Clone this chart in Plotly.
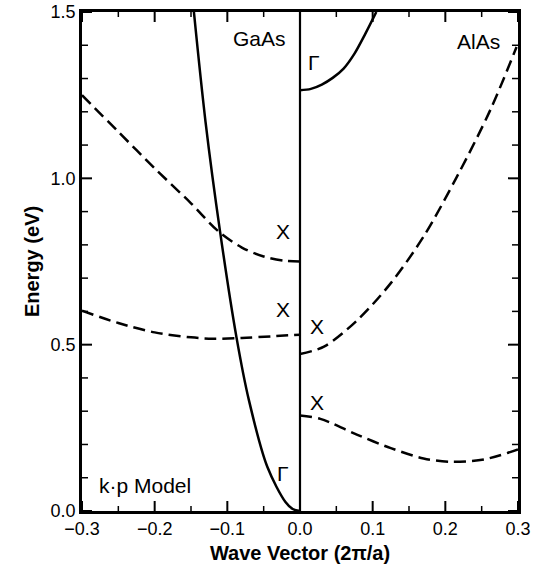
import plotly.graph_objects as go

# ---- data ----
gaas_gamma_k = [0.0, -0.01, -0.02, -0.045, -0.0704, -0.0874, -0.110, -0.13, -0.146]
gaas_gamma_e = [0.0, 0.006, 0.027, 0.133, 0.334, 0.522, 0.840, 1.17, 1.50]

gaas_x1_k = [-0.3, -0.25, -0.2, -0.15, -0.112, -0.08, -0.05, -0.02, 0.0]
gaas_x1_e = [1.25, 1.14, 1.03, 0.925, 0.84, 0.792, 0.765, 0.752, 0.75]

gaas_x2_k = [-0.3, -0.25, -0.2, -0.15, -0.12, -0.08, -0.04, 0.0]
gaas_x2_e = [0.602, 0.565, 0.537, 0.522, 0.518, 0.520, 0.525, 0.530]

alas_gamma_k = [0.0, 0.015, 0.03, 0.045, 0.06, 0.075, 0.09, 0.105]
alas_gamma_e = [1.265, 1.269, 1.282, 1.302, 1.330, 1.375, 1.435, 1.50]

alas_x1_k = [0.0, 0.033, 0.079, 0.125, 0.170, 0.216, 0.262, 0.298]
alas_x1_e = [0.472, 0.494, 0.574, 0.685, 0.825, 1.005, 1.206, 1.395]

alas_x2_k = [0.0, 0.028, 0.079, 0.125, 0.170, 0.207, 0.253, 0.3]
alas_x2_e = [0.287, 0.277, 0.229, 0.189, 0.158, 0.148, 0.155, 0.185]

x_range = [-0.3, 0.3]
y_range = [0.0, 1.5]

x_major_ticks = [-0.3, -0.2, -0.1, 0.0, 0.1, 0.2, 0.3]
x_minor_ticks = [-0.25, -0.15, -0.05, 0.05, 0.15, 0.25]
y_major_ticks = [0.0, 0.5, 1.0, 1.5]
y_minor_ticks = [0.1, 0.2, 0.3, 0.4, 0.6, 0.7, 0.8, 0.9, 1.1, 1.2, 1.3, 1.4]

labels = [
    ("GaAs", -0.0557, 1.42),
    ("AlAs", 0.2456, 1.411),
    ("Γ", 0.0186, 1.349),
    ("X", -0.0234, 0.839),
    ("X", -0.0234, 0.605),
    ("X", 0.0227, 0.556),
    ("X", 0.0227, 0.326),
    ("Γ", -0.0234, 0.114),
]

FONT = "Liberation Sans, Arial, sans-serif"
fig = go.Figure()

def add(k, e, dash):
    fig.add_trace(go.Scatter(
        x=k, y=e, mode="lines",
        line=dict(color="black", width=2.5, dash=dash, shape="spline", smoothing=0.9),
        showlegend=False, hoverinfo="skip"))

add(gaas_gamma_k, gaas_gamma_e, "solid")
add(alas_gamma_k, alas_gamma_e, "solid")
add(gaas_x1_k, gaas_x1_e, "12px,6px")
add(gaas_x2_k, gaas_x2_e, "12px,6px")
add(alas_x1_k, alas_x1_e, "12px,6px")
add(alas_x2_k, alas_x2_e, "12px,6px")

# divider at k = 0
fig.add_shape(type="line", x0=0, x1=0, y0=y_range[0], y1=y_range[1], xref="x", yref="y",
              line=dict(color="black", width=2.2))

# inside tick marks on all four sides, placed through the data axes
def xtick(v, length, width):
    for anchor, sign in ((y_range[0], 1), (y_range[1], -1)):
        fig.add_shape(type="line", xref="x", yref="y", x0=v, x1=v,
                      ysizemode="pixel", yanchor=anchor, y0=0, y1=sign * length,
                      line=dict(color="black", width=width))

def ytick(v, length, width):
    for anchor, sign in ((x_range[0], 1), (x_range[1], -1)):
        fig.add_shape(type="line", xref="x", yref="y", y0=v, y1=v,
                      xsizemode="pixel", xanchor=anchor, x0=0, x1=sign * length,
                      line=dict(color="black", width=width))

for v in x_major_ticks:
    xtick(v, 10, 2)
for v in x_minor_ticks:
    xtick(v, 5, 1.5)
for v in y_major_ticks:
    ytick(v, 10, 2)
for v in y_minor_ticks:
    ytick(v, 6, 1.5)

for txt, x, y in labels:
    fig.add_annotation(x=x, y=y, text=txt, showarrow=False,
                       font=dict(family=FONT, size=21, color="black"))

fig.add_annotation(x=-0.279, y=0.078, text="k·p Model", showarrow=False,
                   xanchor="left", font=dict(family=FONT, size=21, color="black"))

main = dict(showline=True, linecolor="black", linewidth=2.5, mirror=True,
            ticks="", showgrid=False, zeroline=False, automargin=False,
            tickfont=dict(family=FONT, size=18, color="black"))

fig.update_layout(
    width=537, height=573,
    margin=dict(l=82, r=19, t=12, b=62),
    plot_bgcolor="white", paper_bgcolor="white",
    xaxis=dict(range=x_range, tickvals=x_major_ticks, tickformat=".1f",
               title=dict(text="<b>Wave Vector (2π/a)</b>", font=dict(family=FONT, size=20, color="black"), standoff=8),
               **main),
    yaxis=dict(range=y_range, tickvals=y_major_ticks, tickformat=".1f",
               title=dict(text="<b>Energy (eV)</b>", font=dict(family=FONT, size=20, color="black"), standoff=6),
               **main),
)

fig.write_html("out.html")
